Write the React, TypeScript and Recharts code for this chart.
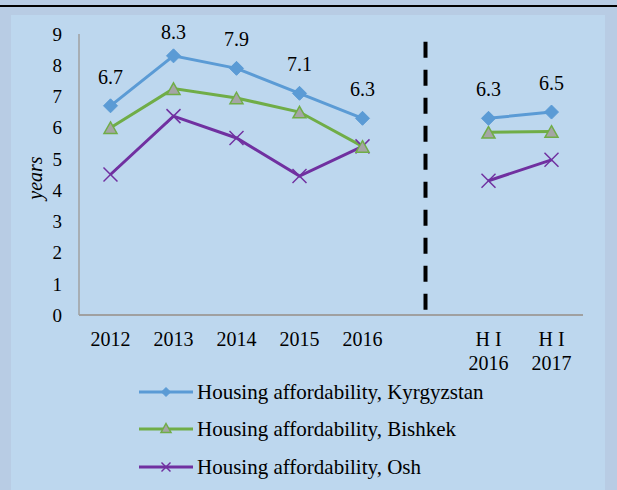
import React from 'react';
import { LineChart, Line, XAxis, YAxis, ReferenceLine, LabelList } from 'recharts';

const categories = ['2012', '2013', '2014', '2015', '2016', ' ', 'H I|2016', 'H I|2017'];
const kyrgyzstan = [6.7, 8.3, 7.9, 7.1, 6.3, null, 6.3, 6.5];
const bishkek = [6.0, 7.25, 6.95, 6.5, 5.4, null, 5.85, 5.88];
const osh = [4.5, 6.37, 5.67, 4.45, 5.4, null, 4.3, 4.97];
const yTicks = [0, 1, 2, 3, 4, 5, 6, 7, 8, 9];
const seriesNames = [
  'Housing affordability, Kyrgyzstan',
  'Housing affordability, Bishkek',
  'Housing affordability, Osh',
];
const gapCategory = ' ';
const dividerRange = [8.75, 0.1];

const FONT = '"Liberation Serif", "Times New Roman", serif';
const BLUE = '#5b9bd5';
const GREEN = '#70ad47';
const GRAY = '#a5a5a5';
const PURPLE = '#7030a0';

const data = categories.map((c, i) => ({
  cat: c,
  kg: kyrgyzstan[i],
  bk: bishkek[i],
  osh: osh[i],
}));

const Diamond = ({ cx, cy, size = 7 }: any) =>
  cx == null || cy == null ? null : (
    <path
      d={`M${cx},${cy - size}L${cx + size},${cy}L${cx},${cy + size}L${cx - size},${cy}Z`}
      fill={BLUE}
      stroke={BLUE}
      strokeWidth={1}
    />
  );

const Triangle = ({ cx, cy, w = 13, h = 11.5 }: any) =>
  cx == null || cy == null ? null : (
    <path
      d={`M${cx},${cy - h / 2}L${cx + w / 2},${cy + h / 2}L${cx - w / 2},${cy + h / 2}Z`}
      fill={GRAY}
      stroke={GREEN}
      strokeWidth={1.5}
    />
  );

const Cross = ({ cx, cy, size = 7 }: any) =>
  cx == null || cy == null ? null : (
    <g stroke={PURPLE} strokeWidth={1.5}>
      <line x1={cx - size} y1={cy - size} x2={cx + size} y2={cy + size} />
      <line x1={cx - size} y1={cy + size} x2={cx + size} y2={cy - size} />
    </g>
  );

const XTick = ({ x, y, payload }: any) => {
  const v = String(payload.value);
  if (!v.trim()) return null;
  const lines = v.split('|');
  return (
    <text x={x} y={y} textAnchor="middle" fontFamily={FONT} fontSize={20} fill="#000">
      {lines.map((l, i) => (
        <tspan key={i} x={x} dy={i === 0 ? 23 : 23.5}>
          {l}
        </tspan>
      ))}
    </text>
  );
};

const KgLabel = ({ x, y, value }: any) => {
  if (value == null) return null;
  const by = Math.max(y - 22, 39);
  return (
    <text x={x} y={by} textAnchor="middle" fontFamily={FONT} fontSize={20} fill="#000">
      {value}
    </text>
  );
};

const LegendIcon = ({ idx }: { idx: number }) => {
  const color = [BLUE, GREEN, PURPLE][idx];
  return (
    <svg width={54} height={20} style={{ display: 'block' }}>
      <line x1={0} y1={10} x2={54} y2={10} stroke={color} strokeWidth={3} />
      {idx === 0 && <Diamond cx={27} cy={10} size={4.5} />}
      {idx === 1 && <Triangle cx={27} cy={9} w={10} h={9} />}
      {idx === 2 && <Cross cx={27} cy={10} size={4.5} />}
    </svg>
  );
};

export default function App() {
  return (
    <div
      style={{
        position: 'absolute',
        left: 0,
        top: 0,
        width: 617,
        height: 490,
        background: '#b8cce4',
        overflow: 'hidden',
        fontFamily: FONT,
      }}
    >
      <div style={{ position: 'absolute', left: 0, top: 5, width: 617, height: 2, background: '#000' }} />
      <div style={{ position: 'absolute', left: 11, top: 15, width: 594, height: 475, background: '#bdd7ee' }} />
      <div style={{ position: 'absolute', left: 0, top: 0 }}>
        <LineChart width={617} height={490} data={data} margin={{ top: 34, right: 34, left: 0, bottom: 0 }}>
          <XAxis
            dataKey="cat"
            scale="band"
            height={175}
            tickLine={false}
            axisLine={{ stroke: '#a0a0a0', strokeWidth: 2 }}
            tick={<XTick />}
            interval={0}
          />
          <YAxis
            width={79}
            domain={[0, 9]}
            ticks={yTicks}
            tickLine={false}
            tickMargin={11}
            axisLine={{ stroke: '#a0a0a0', strokeWidth: 1.5 }}
            tick={{ fontFamily: FONT, fontSize: 19, fill: '#000' }}
            label={{
              value: 'years',
              angle: -90,
              position: 'center',
              dx: -4.5,
              dy: 3.5,
              style: { fontFamily: FONT, fontSize: 20, fontStyle: 'italic', fill: '#000' },
            }}
          />
          <ReferenceLine
            segment={[
              { x: gapCategory, y: dividerRange[0] },
              { x: gapCategory, y: dividerRange[1] },
            ]}
            stroke="#000"
            strokeWidth={4}
            strokeDasharray="16 12"
          />
          <Line
            dataKey="osh"
            name={seriesNames[2]}
            stroke={PURPLE}
            strokeWidth={3}
            dot={<Cross />}
            activeDot={false}
            isAnimationActive={false}
          />
          <Line
            dataKey="bk"
            name={seriesNames[1]}
            stroke={GREEN}
            strokeWidth={3}
            dot={<Triangle />}
            activeDot={false}
            isAnimationActive={false}
          />
          <Line
            dataKey="kg"
            name={seriesNames[0]}
            stroke={BLUE}
            strokeWidth={3}
            dot={<Diamond />}
            activeDot={false}
            isAnimationActive={false}
          >
            <LabelList dataKey="kg" content={<KgLabel />} />
          </Line>
        </LineChart>
      </div>
      {seriesNames.map((n, i) => (
        <div
          key={n}
          style={{
            position: 'absolute',
            left: 139,
            top: [392, 429, 467][i] - 13,
            height: 26,
            display: 'flex',
            alignItems: 'center',
            fontSize: 21,
            color: '#000',
            whiteSpace: 'nowrap',
          }}
        >
          <LegendIcon idx={i} />
          <span style={{ marginLeft: 4 }}>{n}</span>
        </div>
      ))}
    </div>
  );
}
